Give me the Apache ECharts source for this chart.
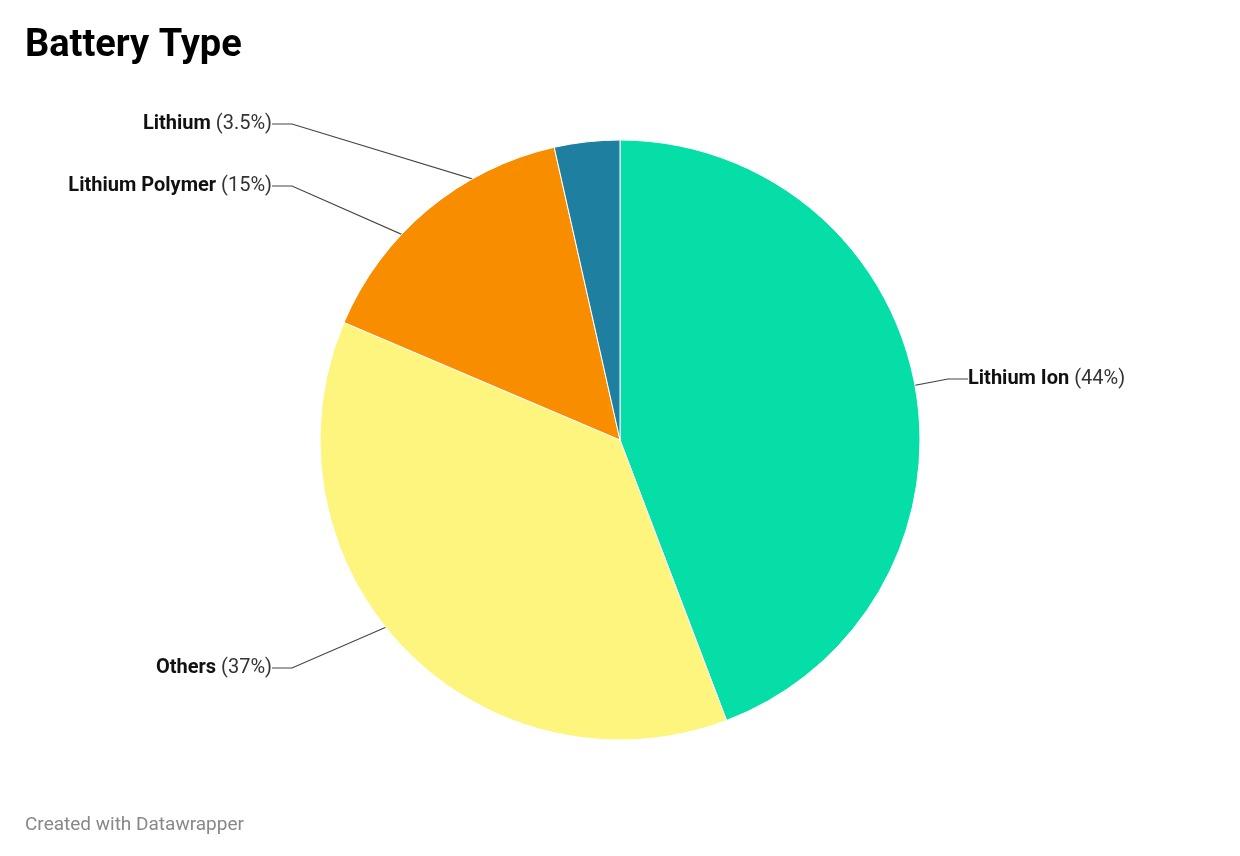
<!DOCTYPE html>
<html><head><meta charset="utf-8">
<script src="https://cdn.jsdelivr.net/npm/echarts@6/dist/echarts.min.js"></script>
<style>html,body{margin:0;padding:0;background:#fff}#c{width:1240px;height:856px}</style>
</head><body><div id="c"></div>
<script>
var categories = ["Lithium Ion", "Others", "Lithium Polymer", "Lithium"];
var values = [44, 37, 15, 3.5];
var colors = ["#05dea6", "#fdf57e", "#f88d00", "#1e7fa0"];
var labelPos = {"Lithium Ion":[968,379,"left"],"Others":[272,668,"right"],"Lithium Polymer":[272,186,"right"],"Lithium":[272,124,"right"]};
var data = categories.map(function(c,i){return {name:c,value:values[i],itemStyle:{color:colors[i]}};});
var chart = echarts.init(document.getElementById('c'));
chart.setOption({
  animation:false,
  title:[{text:"Battery Type",left:20,top:22,textStyle:{fontFamily:"Roboto",fontSize:38,fontWeight:"bold",color:"#000"}},
         {text:"Created with Datawrapper",left:20,top:811,textStyle:{fontFamily:"Roboto",fontSize:19,fontWeight:"normal",color:"#888"}}],
  series:[
    {type:"pie",center:[620,440],radius:[0,300],startAngle:90,clockwise:true,silent:true,
     itemStyle:{borderColor:"#fff",borderWidth:1},label:{show:false},labelLine:{show:false},data:data},
    {type:"pie",center:[620,440],radius:[0,225],startAngle:90,clockwise:true,silent:true,
     itemStyle:{color:"rgba(0,0,0,0)"},
     data:categories.map(function(c,i){return {name:c,value:values[i]};}),
     label:{show:true,position:"outside",fontFamily:"Roboto",fontSize:20,color:"#111",
       formatter:function(p){return "{b|"+p.name+"} {n|("+p.value+"%)}";},
       rich:{b:{fontWeight:"bold",fontSize:20,fontFamily:"Roboto",color:"#111"},n:{fontSize:20,fontFamily:"Roboto",color:"#333"}}},
     labelLine:{show:true,length:20,length2:20,lineStyle:{color:"#444",width:1.2}},
     labelLayout:function(p){var l=labelPos[categories[p.dataIndex]];return {x:l[0],y:l[1],align:l[2],verticalAlign:"middle"};}
    }
  ]
});
</script></body></html>
